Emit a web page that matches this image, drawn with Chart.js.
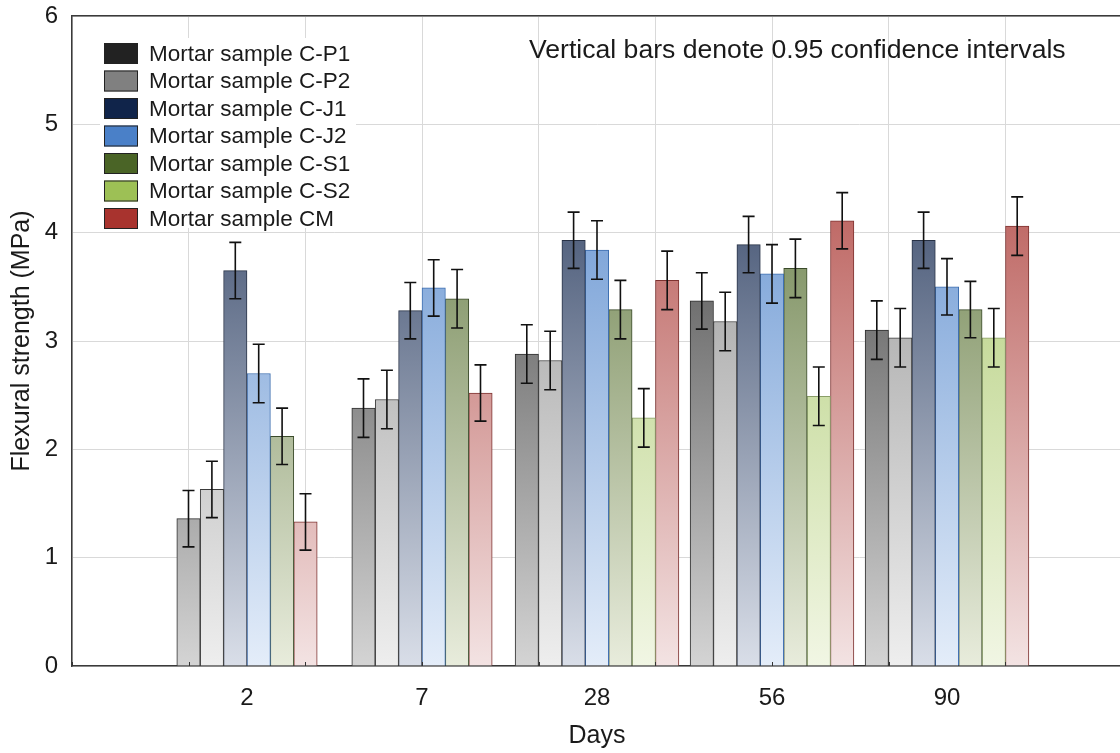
<!DOCTYPE html>
<html>
<head>
<meta charset="utf-8">
<script src="https://cdn.jsdelivr.net/npm/chart.js@4.4.1/dist/chart.umd.min.js"></script>
<style>
  html, body { margin: 0; padding: 0; background: #fff; overflow: hidden; }
  #wrap { position: absolute; left: 0; top: 0; width: 1124px; height: 753px; }
</style>
</head>
<body>
<div id="wrap"><canvas id="chart" width="1124" height="753"></canvas></div>
<script>
// categories (curing time, days)
const days = ['2', '7', '28', '56', '90'];

const seriesNames = [
  'Mortar sample C-P1', 'Mortar sample C-P2', 'Mortar sample C-J1',
  'Mortar sample C-J2', 'Mortar sample C-S1', 'Mortar sample C-S2',
  'Mortar sample CM'
];

// mean flexural strength, MPa
const cp1 = [1.36, 2.38, 2.88, 3.37, 3.10];
const cp2 = [1.63, 2.46, 2.82, 3.18, 3.03];
const cj1 = [3.65, 3.28, 3.93, 3.89, 3.93];
const cj2 = [2.70, 3.49, 3.84, 3.62, 3.50];
const cs1 = [2.12, 3.39, 3.29, 3.67, 3.29];
const cs2 = [null, null, 2.29, 2.49, 3.03];
const cm  = [1.33, 2.52, 3.56, 4.11, 4.06];

// half width of the 0.95 confidence interval
const cp1Ci = [0.26, 0.27, 0.27, 0.26, 0.27];
const cp2Ci = [0.26, 0.27, 0.27, 0.27, 0.27];
const cj1Ci = [0.26, 0.26, 0.26, 0.26, 0.26];
const cj2Ci = [0.27, 0.26, 0.27, 0.27, 0.26];
const cs1Ci = [0.26, 0.27, 0.27, 0.27, 0.26];
const cs2Ci = [null, null, 0.27, 0.27, 0.27];
const cmCi  = [0.26, 0.26, 0.27, 0.26, 0.27];

const yTicks = [0, 1, 2, 3, 4, 5, 6];
// background grid columns (the frame is split into 9 equal parts)
const gridCols = [0, 1, 2, 3, 4, 5, 6, 7, 8, 9];

const FONT = '"Liberation Sans", Arial, sans-serif';
const TEXT = '#1a1a1a';

// solid = legend swatch / gradient top, light = gradient bottom
const styles = [
  { solid: '#222222', light: '#d4d4d4', border: '#2e2e2e' },
  { solid: '#808080', light: '#eeeeee', border: '#3a3a3a' },
  { solid: '#10244a', light: '#d9dee8', border: '#283246' },
  { solid: '#4a80c8', light: '#e4edf9', border: '#3d6eb0' },
  { solid: '#4a6426', light: '#e8ecdc', border: '#3a4a2a' },
  { solid: '#9dc055', light: '#f1f6e4', border: '#8a9e68' },
  { solid: '#a8332e', light: '#f3e3e3', border: '#7e3230' }
];

const values = [cp1, cp2, cj1, cj2, cs1, cs2, cm];
const cis = [cp1Ci, cp2Ci, cj1Ci, cj2Ci, cs1Ci, cs2Ci, cmCi];

// blank slots at both ends so the axis runs one step before 2 and past 90
const pad = arr => [null, ...arr, null];
const labels = ['', ...days, ''];

function gradientFill(st) {
  return ctx => {
    const area = ctx.chart.chartArea;
    if (!area) return st.solid;
    const g = ctx.chart.ctx.createLinearGradient(0, area.top, 0, area.bottom);
    g.addColorStop(0, st.solid);
    g.addColorStop(1, st.light);
    return g;
  };
}

const datasets = seriesNames.map((name, i) => ({
  label: name,
  data: pad(values[i]),
  ci: pad(cis[i]),
  swatch: styles[i].solid,
  backgroundColor: gradientFill(styles[i]),
  borderColor: styles[i].border,
  borderWidth: 1,
  barThickness: 23.4,
  skipNull: true
}));

const noPad = s => { s.paddingTop = 0; s.paddingBottom = 0; s.paddingLeft = 0; s.paddingRight = 0; };

const errorBars = {
  id: 'errorBars',
  afterDatasetsDraw(chart) {
    const { ctx } = chart;
    const y = chart.scales.y;
    ctx.save();
    ctx.strokeStyle = '#111';
    ctx.lineWidth = 1.6;
    chart.data.datasets.forEach((ds, i) => {
      chart.getDatasetMeta(i).data.forEach((bar, j) => {
        const v = ds.data[j], e = ds.ci[j];
        if (v == null || e == null) return;
        const t = y.getPixelForValue(v + e);
        const b = y.getPixelForValue(v - e);
        const x = bar.x;
        ctx.beginPath();
        ctx.moveTo(x, t); ctx.lineTo(x, b);
        ctx.moveTo(x - 6, t); ctx.lineTo(x + 6, t);
        ctx.moveTo(x - 6, b); ctx.lineTo(x + 6, b);
        ctx.stroke();
      });
    });
    // small inward ticks on the bottom axis at each grid column
    const x2 = chart.scales.x2, bottom = chart.chartArea.bottom;
    ctx.strokeStyle = '#333';
    ctx.lineWidth = 1;
    x2.ticks.forEach(t => {
      const px = Math.round(x2.getPixelForValue(t.value)) + 0.5;
      ctx.beginPath();
      ctx.moveTo(px, bottom); ctx.lineTo(px, bottom - 4);
      ctx.stroke();
    });
    ctx.restore();
  }
};

const boxLegend = {
  id: 'boxLegend',
  afterDraw(chart) {
    const { ctx } = chart;
    const x0 = 104, y0 = 43, rowH = 27.5, boxW = 34, boxH = 21;
    ctx.save();
    ctx.fillStyle = '#fff';
    ctx.fillRect(100, 38, 256, 190);
    ctx.font = '22.5px ' + FONT;
    ctx.textBaseline = 'middle';
    chart.data.datasets.forEach((ds, i) => {
      const y = y0 + i * rowH;
      ctx.fillStyle = ds.swatch;
      ctx.fillRect(x0, y, boxW, boxH);
      ctx.strokeStyle = '#222';
      ctx.lineWidth = 1;
      ctx.strokeRect(x0 + 0.5, y + 0.5, boxW - 1, boxH - 1);
      ctx.fillStyle = TEXT;
      ctx.fillText(ds.label, 149, y + boxH / 2 + 1);
    });
    ctx.restore();
  }
};

const note = {
  id: 'note',
  afterDraw(chart) {
    const { ctx } = chart;
    ctx.save();
    ctx.font = '26.6px ' + FONT;
    ctx.fillStyle = TEXT;
    ctx.textBaseline = 'middle';
    ctx.fillText('Vertical bars denote 0.95 confidence intervals', 529, 51);
    ctx.restore();
  }
};

new Chart(document.getElementById('chart'), {
  type: 'bar',
  data: { labels, datasets },
  options: {
    responsive: false,
    animation: false,
    devicePixelRatio: 1,
    layout: { padding: { top: 16, right: 2, left: 0, bottom: 0 } },
    plugins: { legend: { display: false }, tooltip: { enabled: false } },
    scales: {
      x: {
        offset: false,
        grid: { display: false },
        border: { color: '#3a3a3a', width: 1.5 },
        ticks: { color: TEXT, font: { family: FONT, size: 24 }, padding: 10, maxRotation: 0, autoSkip: false },
        title: { display: true, text: 'Days', color: TEXT, font: { family: FONT, size: 25 }, padding: { top: 0, bottom: 2 } },
        afterFit: s => { noPad(s); s.height = 87; }
      },
      x2: {
        type: 'linear', position: 'top', min: 0, max: 9,
        offset: false,
        afterBuildTicks: s => { s.ticks = gridCols.map(v => ({ value: v })); },
        ticks: { display: false },
        grid: { color: '#d9d9d9', drawTicks: false, offset: false },
        border: { color: '#3a3a3a', width: 1.5 },
        afterFit: s => { noPad(s); s.height = 0; }
      },
      y: {
        min: 0, max: 6,
        afterBuildTicks: s => { s.ticks = yTicks.map(v => ({ value: v })); },
        ticks: { color: TEXT, font: { family: FONT, size: 24 }, padding: 14 },
        grid: { color: '#d9d9d9', drawTicks: false },
        border: { color: '#3a3a3a', width: 1.5 },
        title: { display: true, text: 'Flexural strength (MPa)', color: TEXT, font: { family: FONT, size: 25 }, padding: { top: 7, bottom: 0 } },
        afterFit: s => { noPad(s); s.width = 72; }
      }
    }
  },
  plugins: [errorBars, boxLegend, note]
});
</script>
</body>
</html>
